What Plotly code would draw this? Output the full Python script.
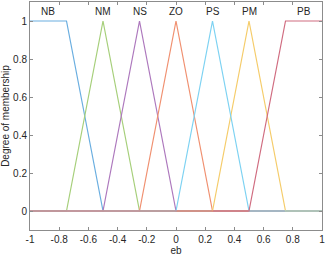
import numpy as np
import plotly.graph_objects as go

mf_names = ["NB", "NM", "NS", "ZO", "PS", "PM", "PB"]
mf_params = [
    [-1.0, -1.0, -0.75, -0.5],
    [-0.75, -0.5, -0.5, -0.25],
    [-0.5, -0.25, -0.25, 0.0],
    [-0.25, 0.0, 0.0, 0.25],
    [0.0, 0.25, 0.25, 0.5],
    [0.25, 0.5, 0.5, 0.75],
    [0.5, 0.75, 1.0, 1.0],
]
mf_label_x = [-0.875, -0.5, -0.25, 0.0, 0.25, 0.5, 0.875]
mf_colors = ["#6aaee0", "#a6cf7a", "#ad78bd", "#f09070", "#7dd2f2", "#f5cc6a", "#d06c80"]
draw_order = [0, 1, 2, 3, 5, 4, 6]
x_ticks = [-1, -0.8, -0.6, -0.4, -0.2, 0, 0.2, 0.4, 0.6, 0.8, 1]
y_ticks = [0, 0.2, 0.4, 0.6, 0.8, 1]


def trapmf(p):
    a, b, c, d = p
    if a == -1.0:
        return [-1.0, c, d, 1.0], [1.0, 1.0, 0.0, 0.0]
    if d == 1.0:
        return [-1.0, a, b, 1.0], [0.0, 0.0, 1.0, 1.0]
    return [-1.0, a, b, c, d, 1.0], [0.0, 0.0, 1.0, 1.0, 0.0, 0.0]


fig = go.Figure()
for i in draw_order:
    xs, ys = trapmf(mf_params[i])
    fig.add_trace(go.Scatter(x=xs, y=ys, mode="lines",
                             line=dict(color=mf_colors[i], width=1.2),
                             hoverinfo="skip", showlegend=False))

for name, lx in zip(mf_names, mf_label_x):
    fig.add_annotation(x=lx, y=1.05, text=name, showarrow=False,
                       font=dict(size=10, color="#262626"),
                       xanchor="center", yanchor="middle")

axis_common = dict(showgrid=False, zeroline=False, showline=True,
                   linecolor="#8c8c8c", linewidth=1, mirror="ticks",
                   ticks="inside", ticklen=3, tickcolor="#8c8c8c",
                   automargin=False,
                   tickfont=dict(size=10, color="#262626"))

fig.update_xaxes(range=[-1, 1], tickvals=x_ticks,
                 ticktext=[f"{v:g}" for v in x_ticks],
                 title=dict(text="eb", font=dict(size=10, color="#262626"), standoff=2),
                 **axis_common)
fig.update_yaxes(range=[-0.1, 1.1], tickvals=y_ticks,
                 ticktext=[f"{v:g}" for v in y_ticks],
                 title=dict(text="Degree of membership", font=dict(size=10, color="#262626"), standoff=1),
                 **axis_common)

fig.update_layout(width=326, height=259,
                  margin=dict(l=30, r=4, t=2, b=29, autoexpand=False),
                  paper_bgcolor="white", plot_bgcolor="white",
                  font=dict(family="Liberation Sans, Arial, sans-serif", size=10))

fig.write_html("out.html", config={"displayModeBar": False, "staticPlot": True},
               post_script="document.body.style.margin='0';document.body.style.overflow='hidden';")
